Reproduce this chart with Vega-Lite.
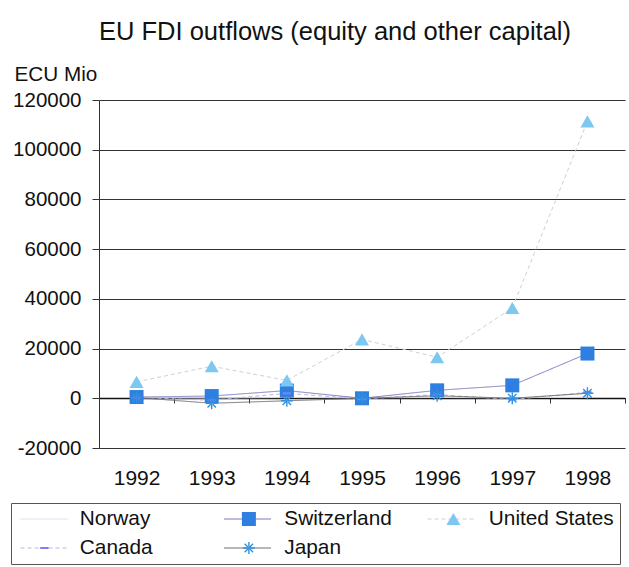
{
  "$schema": "https://vega.github.io/schema/vega-lite/v6.json",
  "autosize": "none",
  "width": 526,
  "height": 348,
  "padding": {"left": 99, "top": 100, "right": 4, "bottom": 119},
  "background": "white",
  "config": {"font": "Liberation Sans", "view": {"stroke": null}},
  "title": {"text": "EU FDI outflows (equity and other capital)", "fontSize": 25.5, "fontWeight": "normal", "color": "#111", "frame": "group", "anchor": "middle", "dx": -27, "offset": -2, "baseline": "alphabetic"},
  "data": {"values": [
    {"year": "1992", "country": "Norway", "value": 200},
    {"year": "1993", "country": "Norway", "value": 100},
    {"year": "1994", "country": "Norway", "value": 300},
    {"year": "1995", "country": "Norway", "value": 200},
    {"year": "1996", "country": "Norway", "value": 300},
    {"year": "1997", "country": "Norway", "value": 200},
    {"year": "1998", "country": "Norway", "value": 500},
    {"year": "1992", "country": "Switzerland", "value": 500},
    {"year": "1993", "country": "Switzerland", "value": 900},
    {"year": "1994", "country": "Switzerland", "value": 3100},
    {"year": "1995", "country": "Switzerland", "value": 0},
    {"year": "1996", "country": "Switzerland", "value": 3200},
    {"year": "1997", "country": "Switzerland", "value": 5200},
    {"year": "1998", "country": "Switzerland", "value": 18000},
    {"year": "1992", "country": "United States", "value": 6600},
    {"year": "1993", "country": "United States", "value": 12900},
    {"year": "1994", "country": "United States", "value": 7200},
    {"year": "1995", "country": "United States", "value": 23700},
    {"year": "1996", "country": "United States", "value": 16500},
    {"year": "1997", "country": "United States", "value": 36300},
    {"year": "1998", "country": "United States", "value": 111400},
    {"year": "1992", "country": "Canada", "value": 300},
    {"year": "1993", "country": "Canada", "value": -800},
    {"year": "1994", "country": "Canada", "value": 2000},
    {"year": "1995", "country": "Canada", "value": -300},
    {"year": "1996", "country": "Canada", "value": 1500},
    {"year": "1997", "country": "Canada", "value": -500},
    {"year": "1998", "country": "Canada", "value": 2400},
    {"year": "1992", "country": "Japan", "value": 300},
    {"year": "1993", "country": "Japan", "value": -2000},
    {"year": "1994", "country": "Japan", "value": -1000},
    {"year": "1995", "country": "Japan", "value": 0},
    {"year": "1996", "country": "Japan", "value": 1000},
    {"year": "1997", "country": "Japan", "value": 0},
    {"year": "1998", "country": "Japan", "value": 2000}
  ]},
  "encoding": {
    "x": {"field": "year", "type": "ordinal", "scale": {"type": "band", "paddingInner": 0, "paddingOuter": 0},
      "axis": {"title": null, "offset": -50, "domainColor": "#111", "domainWidth": 1.5, "tickBand": "extent", "tickSize": 5, "tickColor": "#333", "labelPadding": 64, "labelFontSize": 21, "labelColor": "#111", "labelAngle": 0, "grid": false}},
    "y": {"field": "value", "type": "quantitative", "scale": {"domain": [-20000, 120000], "nice": false, "zero": false},
      "axis": {"values": [-20000, 0, 20000, 40000, 60000, 80000, 100000, 120000], "labelExpr": "'' + datum.value", "labelFontSize": 20.5, "labelColor": "#111", "tickSize": 7, "tickColor": "#333", "labelPadding": 11, "domainColor": "#333", "gridColor": "#333", "gridOpacity": 1,
        "title": "ECU Mio", "titleAngle": 0, "titleAlign": "left", "titleBaseline": "alphabetic", "titleX": -85, "titleY": -20, "titleFontSize": 20.7, "titleFontWeight": "normal", "titleColor": "#111"}}
  },
  "layer": [
    {
      "mark": {"type": "line", "strokeWidth": 1},
      "encoding": {
        "color": {"field": "country", "type": "nominal",
          "scale": {"domain": ["Norway", "Switzerland", "United States", "Canada", "Japan"], "range": ["#dcdcf0", "#7a7ac0", "#cfcfd8", "#b8b8e0", "#707070"]},
          "legend": {"orient": "none", "legendX": -88, "legendY": 403, "columns": 3, "direction": "horizontal", "title": null, "symbolType": "stroke", "symbolSize": 2209, "symbolStrokeWidth": 1, "symbolOffset": 3, "labelOffset": 11, "labelFontSize": 20.8, "labelOpacity": 0, "clipHeight": 20, "gridAlign": "all", "columnPadding": 16.5, "rowPadding": 8, "padding": 6}},
        "strokeDash": {"field": "country", "type": "nominal",
          "scale": {"domain": ["Norway", "Switzerland", "United States", "Canada", "Japan"], "range": [[1, 0], [1, 0], [4, 3], [4, 3], [1, 0]]}}
      }
    },
    {
      "mark": {"type": "point", "filled": true, "opacity": 1, "size": 196},
      "encoding": {
        "color": {"field": "country", "type": "nominal",
          "scale": {"domain": ["Norway", "Switzerland", "United States", "Canada", "Japan"], "range": ["transparent", "#2e7fe0", "#7cc8f0", "#8080f0", "#3090e0"]},
          "legend": {"orient": "none", "legendX": -88, "legendY": 403, "columns": 3, "direction": "horizontal", "title": null, "symbolSize": 196, "symbolOffset": 17, "labelOffset": 25, "labelFontSize": 20.8, "labelColor": "#111", "clipHeight": 20, "gridAlign": "all", "columnPadding": 16.5, "rowPadding": 8, "padding": 6, "strokeColor": "#555"}},
        "shape": {"field": "country", "type": "nominal",
          "scale": {"domain": ["Norway", "Switzerland", "United States", "Canada", "Japan"], "range": ["circle", "square", "triangle-up", "M-0.6,-0.15H0.6V0.15H-0.6Z", "M-0.85,-0.1H0.85V0.1H-0.85Z M-0.1,-0.85H0.1V0.85H-0.1Z M-0.67,-0.53L0.53,0.67L0.67,0.53L-0.53,-0.67Z M0.53,-0.67L0.67,-0.53L-0.53,0.67L-0.67,0.53Z"]}}
      }
    }
  ],
  "resolve": {"scale": {"color": "independent", "shape": "independent", "strokeDash": "independent"}}
}
